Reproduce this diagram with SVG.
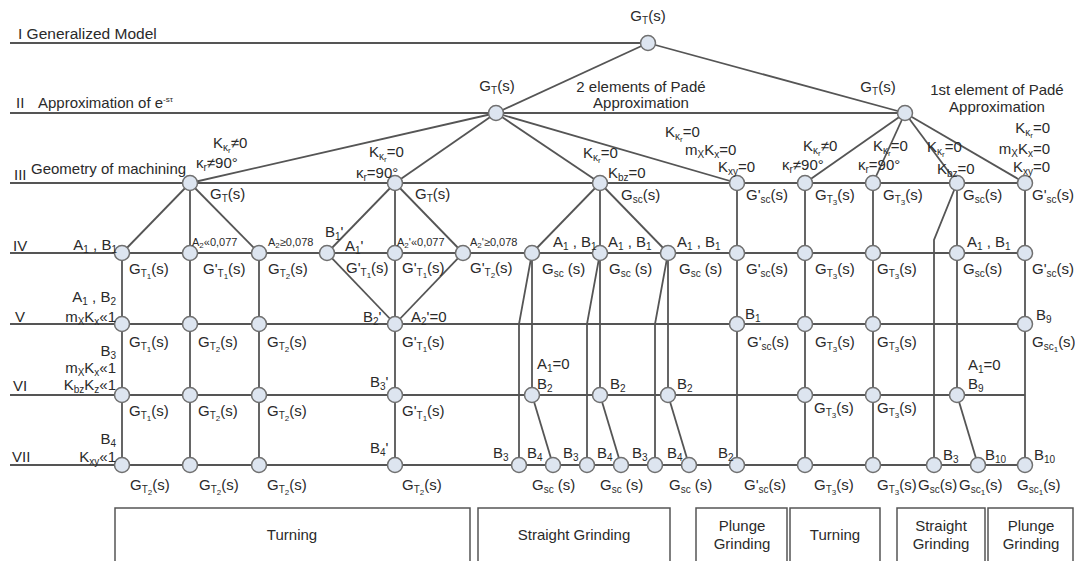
<svg xmlns="http://www.w3.org/2000/svg" width="1075" height="561" viewBox="0 0 1075 561">
<style>
.ln{stroke:#555;stroke-width:1.8;fill:none}
.nd{fill:#dde5f0;stroke:#707070;stroke-width:1.5}
.t{font-family:"Liberation Sans",Arial,sans-serif;font-size:15px;fill:#2a2a2a}
.sm{font-size:11px}
.sb{font-size:10px}
.ss{font-size:8px}
.sm .sb{font-size:8px}
.bx{fill:#fff;stroke:#555;stroke-width:1.5}
.c{text-anchor:middle}
.e{text-anchor:end}
</style>
<rect width="1075" height="561" fill="#fff"/>
<g id="connectors" class="ln">
<line x1="10" y1="43" x2="648" y2="43"/>
<line x1="10" y1="113" x2="905" y2="113"/>
<line x1="10" y1="183" x2="1025" y2="183"/>
<line x1="10" y1="253" x2="1025" y2="253"/>
<line x1="10" y1="324" x2="1025" y2="324"/>
<line x1="10" y1="395" x2="1025" y2="395"/>
<line x1="10" y1="465" x2="1025" y2="465"/>
<line x1="648" y1="43" x2="496" y2="113"/>
<line x1="648" y1="43" x2="905" y2="113"/>
<line x1="496" y1="113" x2="190" y2="183"/>
<line x1="496" y1="113" x2="395" y2="183"/>
<line x1="496" y1="113" x2="600" y2="183"/>
<line x1="496" y1="113" x2="737" y2="183"/>
<line x1="905" y1="113" x2="805" y2="183"/>
<line x1="905" y1="113" x2="873" y2="183"/>
<line x1="905" y1="113" x2="957" y2="183"/>
<line x1="905" y1="113" x2="1025" y2="183"/>
<line x1="190" y1="183" x2="122" y2="253"/>
<line x1="190" y1="183" x2="259" y2="253"/>
<line x1="395" y1="183" x2="327" y2="253"/>
<line x1="395" y1="183" x2="463" y2="253"/>
<line x1="327" y1="253" x2="395" y2="324"/>
<line x1="463" y1="253" x2="395" y2="324"/>
<line x1="600" y1="183" x2="532" y2="253"/>
<line x1="600" y1="183" x2="668" y2="253"/>
<line x1="122" y1="253" x2="122" y2="465"/>
<line x1="190" y1="183" x2="190" y2="465"/>
<line x1="259" y1="253" x2="259" y2="465"/>
<line x1="395" y1="183" x2="395" y2="465"/>
<line x1="532" y1="253" x2="532" y2="395"/>
<line x1="600" y1="183" x2="600" y2="395"/>
<line x1="668" y1="253" x2="668" y2="395"/>
<line x1="737" y1="183" x2="737" y2="465"/>
<line x1="805" y1="183" x2="805" y2="465"/>
<line x1="873" y1="183" x2="873" y2="465"/>
<line x1="957" y1="183" x2="957" y2="395"/>
<line x1="1025" y1="183" x2="1025" y2="465"/>
<polyline points="532,253 519,324 519,465"/>
<polyline points="600,253 587,324 587,465"/>
<polyline points="668,253 655,324 655,465"/>
<polyline points="957,183 934,240 934,465"/>
<line x1="532" y1="395" x2="553" y2="465"/>
<line x1="600" y1="395" x2="621" y2="465"/>
<line x1="668" y1="395" x2="689" y2="465"/>
<line x1="957" y1="395" x2="978" y2="465"/>
</g>
<g id="nodes" class="nd">
<g id="n1"><circle cx="648" cy="43" r="7.5"/></g>
<g id="n2a"><circle cx="496" cy="113" r="7.5"/></g>
<g id="n2b"><circle cx="905" cy="113" r="7.5"/></g>
<g id="n3-190"><circle cx="190" cy="183" r="7.5"/></g>
<g id="n3-395"><circle cx="395" cy="183" r="7.5"/></g>
<g id="n3-600"><circle cx="600" cy="183" r="7.5"/></g>
<g id="n3-737"><circle cx="737" cy="183" r="7.5"/></g>
<g id="n3-805"><circle cx="805" cy="183" r="7.5"/></g>
<g id="n3-873"><circle cx="873" cy="183" r="7.5"/></g>
<g id="n3-957"><circle cx="957" cy="183" r="7.5"/></g>
<g id="n3-1025"><circle cx="1025" cy="183" r="7.5"/></g>
<g id="n4-122"><circle cx="122" cy="253" r="7.5"/></g>
<g id="n4-190"><circle cx="190" cy="253" r="7.5"/></g>
<g id="n4-259"><circle cx="259" cy="253" r="7.5"/></g>
<g id="n4-327"><circle cx="327" cy="253" r="7.5"/></g>
<g id="n4-395"><circle cx="395" cy="253" r="7.5"/></g>
<g id="n4-463"><circle cx="463" cy="253" r="7.5"/></g>
<g id="n4-532"><circle cx="532" cy="253" r="7.5"/></g>
<g id="n4-600"><circle cx="600" cy="253" r="7.5"/></g>
<g id="n4-668"><circle cx="668" cy="253" r="7.5"/></g>
<g id="n4-737"><circle cx="737" cy="253" r="7.5"/></g>
<g id="n4-805"><circle cx="805" cy="253" r="7.5"/></g>
<g id="n4-873"><circle cx="873" cy="253" r="7.5"/></g>
<g id="n4-957"><circle cx="957" cy="253" r="7.5"/></g>
<g id="n4-1025"><circle cx="1025" cy="253" r="7.5"/></g>
<g id="n5-122"><circle cx="122" cy="324" r="7.5"/></g>
<g id="n5-190"><circle cx="190" cy="324" r="7.5"/></g>
<g id="n5-259"><circle cx="259" cy="324" r="7.5"/></g>
<g id="n5-395"><circle cx="395" cy="324" r="7.5"/></g>
<g id="n5-737"><circle cx="737" cy="324" r="7.5"/></g>
<g id="n5-805"><circle cx="805" cy="324" r="7.5"/></g>
<g id="n5-873"><circle cx="873" cy="324" r="7.5"/></g>
<g id="n5-1025"><circle cx="1025" cy="324" r="7.5"/></g>
<g id="n6-122"><circle cx="122" cy="395" r="7.5"/></g>
<g id="n6-190"><circle cx="190" cy="395" r="7.5"/></g>
<g id="n6-259"><circle cx="259" cy="395" r="7.5"/></g>
<g id="n6-395"><circle cx="395" cy="395" r="7.5"/></g>
<g id="n6-532"><circle cx="532" cy="395" r="7.5"/></g>
<g id="n6-600"><circle cx="600" cy="395" r="7.5"/></g>
<g id="n6-668"><circle cx="668" cy="395" r="7.5"/></g>
<g id="n6-805"><circle cx="805" cy="395" r="7.5"/></g>
<g id="n6-873"><circle cx="873" cy="395" r="7.5"/></g>
<g id="n6-957"><circle cx="957" cy="395" r="7.5"/></g>
<g id="n7-122"><circle cx="122" cy="465" r="7.5"/></g>
<g id="n7-190"><circle cx="190" cy="465" r="7.5"/></g>
<g id="n7-259"><circle cx="259" cy="465" r="7.5"/></g>
<g id="n7-395"><circle cx="395" cy="465" r="7.5"/></g>
<g id="n7-519"><circle cx="519" cy="465" r="7.5"/></g>
<g id="n7-553"><circle cx="553" cy="465" r="7.5"/></g>
<g id="n7-587"><circle cx="587" cy="465" r="7.5"/></g>
<g id="n7-621"><circle cx="621" cy="465" r="7.5"/></g>
<g id="n7-655"><circle cx="655" cy="465" r="7.5"/></g>
<g id="n7-689"><circle cx="689" cy="465" r="7.5"/></g>
<g id="n7-737"><circle cx="737" cy="465" r="7.5"/></g>
<g id="n7-805"><circle cx="805" cy="465" r="7.5"/></g>
<g id="n7-873"><circle cx="873" cy="465" r="7.5"/></g>
<g id="n7-934"><circle cx="934" cy="465" r="7.5"/></g>
<g id="n7-978"><circle cx="978" cy="465" r="7.5"/></g>
<g id="n7-1025"><circle cx="1025" cy="465" r="7.5"/></g>
</g>
<g id="level-labels" class="t">
<text x="18" y="39" font-size="15.5">I Generalized Model</text>
<text x="16" y="108">II</text>
<text x="38" y="108">Approximation of e<tspan font-size="8" dy="-6">-sτ</tspan></text>
<text x="14" y="180">III</text>
<text x="31" y="174">Geometry of machining</text>
<text x="13" y="251">IV</text>
<text x="15" y="322">V</text>
<text x="13" y="391">VI</text>
<text x="12" y="462">VII</text>
</g>
<g id="labels" class="t">
<text x="648" y="21" class="c">G<tspan class="sb" dy="3">T</tspan><tspan dy="-3">(s)</tspan></text>
<text x="497" y="91" class="c">G<tspan class="sb" dy="3">T</tspan><tspan dy="-3">(s)</tspan></text>
<text x="878" y="92" class="c">G<tspan class="sb" dy="3">T</tspan><tspan dy="-3">(s)</tspan></text>
<text x="641" y="92" class="c">2 elements of Padé</text>
<text x="641" y="108" class="c">Approximation</text>
<text x="997" y="95" class="c">1st element of Padé</text>
<text x="997" y="112" class="c">Approximation</text>
<text x="213" y="148">K<tspan class="sb" dy="3">κ</tspan><tspan class="ss" dy="2">r</tspan><tspan dy="-5">≠0</tspan></text>
<text x="196" y="168">κ<tspan class="sb" dy="3">r</tspan><tspan dy="-3">≠90°</tspan></text>
<text x="369" y="157">K<tspan class="sb" dy="3">κ</tspan><tspan class="ss" dy="2">r</tspan><tspan dy="-5">=0</tspan></text>
<text x="356" y="178">κ<tspan class="sb" dy="3">r</tspan><tspan dy="-3">=90°</tspan></text>
<text x="583" y="158">K<tspan class="sb" dy="3">κ</tspan><tspan class="ss" dy="2">r</tspan><tspan dy="-5">=0</tspan></text>
<text x="608" y="178">K<tspan class="sb" dy="3">bz</tspan><tspan dy="-3">=0</tspan></text>
<text x="665" y="137">K<tspan class="sb" dy="3">κ</tspan><tspan class="ss" dy="2">r</tspan><tspan dy="-5">=0</tspan></text>
<text x="685" y="155">m<tspan class="sb" dy="3">X</tspan><tspan dy="-3">K</tspan><tspan class="sb" dy="3">x</tspan><tspan dy="-3">=0</tspan></text>
<text x="718" y="172">K<tspan class="sb" dy="3">xy</tspan><tspan dy="-3">=0</tspan></text>
<text x="803" y="151">K<tspan class="sb" dy="3">κ</tspan><tspan class="ss" dy="2">r</tspan><tspan dy="-5">≠0</tspan></text>
<text x="782" y="170">κ<tspan class="sb" dy="3">r</tspan><tspan dy="-3">≠90°</tspan></text>
<text x="873" y="151">K<tspan class="sb" dy="3">κ</tspan><tspan class="ss" dy="2">r</tspan><tspan dy="-5">=0</tspan></text>
<text x="858" y="170">κ<tspan class="sb" dy="3">r</tspan><tspan dy="-3">=90°</tspan></text>
<text x="927" y="152">K<tspan class="sb" dy="3">κ</tspan><tspan class="ss" dy="2">r</tspan><tspan dy="-5">=0</tspan></text>
<text x="937" y="174">K<tspan class="sb" dy="3">bz</tspan><tspan dy="-3">=0</tspan></text>
<text x="1050" y="133" class="e">K<tspan class="sb" dy="3">κ</tspan><tspan class="ss" dy="2">r</tspan><tspan dy="-5">=0</tspan></text>
<text x="1050" y="154" class="e">m<tspan class="sb" dy="3">X</tspan><tspan dy="-3">K</tspan><tspan class="sb" dy="3">x</tspan><tspan dy="-3">=0</tspan></text>
<text x="1050" y="172" class="e">K<tspan class="sb" dy="3">xy</tspan><tspan dy="-3">=0</tspan></text>
<text x="210" y="199">G<tspan class="sb" dy="3">T</tspan><tspan dy="-3">(s)</tspan></text>
<text x="415" y="199">G<tspan class="sb" dy="3">T</tspan><tspan dy="-3">(s)</tspan></text>
<text x="621" y="200">G<tspan class="sb" dy="3">sc</tspan><tspan dy="-3">(s)</tspan></text>
<text x="746" y="200">G'<tspan class="sb" dy="3">sc</tspan><tspan dy="-3">(s)</tspan></text>
<text x="815" y="200">G<tspan class="sb" dy="3">T</tspan><tspan class="ss" dy="2">3</tspan><tspan dy="-5">(s)</tspan></text>
<text x="883" y="200">G<tspan class="sb" dy="3">T</tspan><tspan class="ss" dy="2">3</tspan><tspan dy="-5">(s)</tspan></text>
<text x="963" y="200">G<tspan class="sb" dy="3">sc</tspan><tspan dy="-3">(s)</tspan></text>
<text x="1032" y="200">G'<tspan class="sb" dy="3">sc</tspan><tspan dy="-3">(s)</tspan></text>
<text x="117" y="250" class="e">A<tspan class="sb" dy="3">1</tspan><tspan dy="-3"> , B</tspan><tspan class="sb" dy="3">1</tspan></text>
<text x="192" y="246" class="sm">A<tspan class="sb" dy="2">2</tspan><tspan dy="-2">«0,077</tspan></text>
<text x="268" y="246" class="sm">A<tspan class="sb" dy="2">2</tspan><tspan dy="-2">≥0,078</tspan></text>
<text x="325" y="237">B<tspan class="sb" dy="3">1</tspan><tspan dy="-3">'</tspan></text>
<text x="345" y="251">A<tspan class="sb" dy="3">1</tspan><tspan dy="-3">'</tspan></text>
<text x="397" y="246" class="sm">A<tspan class="sb" dy="2">2</tspan><tspan dy="-2">'«0,077</tspan></text>
<text x="470" y="246" class="sm">A<tspan class="sb" dy="2">2</tspan><tspan dy="-2">'≥0,078</tspan></text>
<text x="553" y="247">A<tspan class="sb" dy="3">1</tspan><tspan dy="-3"> , B</tspan><tspan class="sb" dy="3">1</tspan></text>
<text x="608" y="247">A<tspan class="sb" dy="3">1</tspan><tspan dy="-3"> , B</tspan><tspan class="sb" dy="3">1</tspan></text>
<text x="677" y="247">A<tspan class="sb" dy="3">1</tspan><tspan dy="-3"> , B</tspan><tspan class="sb" dy="3">1</tspan></text>
<text x="967" y="247">A<tspan class="sb" dy="3">1</tspan><tspan dy="-3"> , B</tspan><tspan class="sb" dy="3">1</tspan></text>
<text x="129" y="274">G<tspan class="sb" dy="3">T</tspan><tspan class="ss" dy="2">1</tspan><tspan dy="-5">(s)</tspan></text>
<text x="203" y="274">G'<tspan class="sb" dy="3">T</tspan><tspan class="ss" dy="2">1</tspan><tspan dy="-5">(s)</tspan></text>
<text x="268" y="274">G<tspan class="sb" dy="3">T</tspan><tspan class="ss" dy="2">2</tspan><tspan dy="-5">(s)</tspan></text>
<text x="346" y="273">G'<tspan class="sb" dy="3">T</tspan><tspan class="ss" dy="2">1</tspan><tspan dy="-5">(s)</tspan></text>
<text x="402" y="273">G'<tspan class="sb" dy="3">T</tspan><tspan class="ss" dy="2">1</tspan><tspan dy="-5">(s)</tspan></text>
<text x="470" y="273">G'<tspan class="sb" dy="3">T</tspan><tspan class="ss" dy="2">2</tspan><tspan dy="-5">(s)</tspan></text>
<text x="542" y="274">G<tspan class="sb" dy="3">sc</tspan><tspan dy="-3"> (s)</tspan></text>
<text x="609" y="274">G<tspan class="sb" dy="3">sc</tspan><tspan dy="-3"> (s)</tspan></text>
<text x="679" y="274">G<tspan class="sb" dy="3">sc</tspan><tspan dy="-3"> (s)</tspan></text>
<text x="746" y="274">G'<tspan class="sb" dy="3">sc</tspan><tspan dy="-3">(s)</tspan></text>
<text x="815" y="274">G<tspan class="sb" dy="3">T</tspan><tspan class="ss" dy="2">3</tspan><tspan dy="-5">(s)</tspan></text>
<text x="877" y="274">G<tspan class="sb" dy="3">T</tspan><tspan class="ss" dy="2">3</tspan><tspan dy="-5">(s)</tspan></text>
<text x="963" y="274">G<tspan class="sb" dy="3">sc</tspan><tspan dy="-3">(s)</tspan></text>
<text x="1032" y="274">G'<tspan class="sb" dy="3">sc</tspan><tspan dy="-3">(s)</tspan></text>
<text x="116" y="302" class="e">A<tspan class="sb" dy="3">1</tspan><tspan dy="-3"> , B</tspan><tspan class="sb" dy="3">2</tspan></text>
<text x="116" y="322" class="e">m<tspan class="sb" dy="3">X</tspan><tspan dy="-3">K</tspan><tspan class="sb" dy="3">x</tspan><tspan dy="-3">«1</tspan></text>
<text x="363" y="322">B<tspan class="sb" dy="3">2</tspan><tspan dy="-3">'</tspan></text>
<text x="411" y="322">A<tspan class="sb" dy="3">2</tspan><tspan dy="-3">'=0</tspan></text>
<text x="745" y="319">B<tspan class="sb" dy="3">1</tspan></text>
<text x="1036" y="320">B<tspan class="sb" dy="3">9</tspan></text>
<text x="129" y="347">G<tspan class="sb" dy="3">T</tspan><tspan class="ss" dy="2">1</tspan><tspan dy="-5">(s)</tspan></text>
<text x="198" y="347">G<tspan class="sb" dy="3">T</tspan><tspan class="ss" dy="2">2</tspan><tspan dy="-5">(s)</tspan></text>
<text x="267" y="347">G<tspan class="sb" dy="3">T</tspan><tspan class="ss" dy="2">2</tspan><tspan dy="-5">(s)</tspan></text>
<text x="402" y="347">G'<tspan class="sb" dy="3">T</tspan><tspan class="ss" dy="2">1</tspan><tspan dy="-5">(s)</tspan></text>
<text x="747" y="347">G'<tspan class="sb" dy="3">sc</tspan><tspan dy="-3">(s)</tspan></text>
<text x="815" y="347">G<tspan class="sb" dy="3">T</tspan><tspan class="ss" dy="2">3</tspan><tspan dy="-5">(s)</tspan></text>
<text x="877" y="347">G<tspan class="sb" dy="3">T</tspan><tspan class="ss" dy="2">3</tspan><tspan dy="-5">(s)</tspan></text>
<text x="1032" y="347">G<tspan class="sb" dy="3">sc</tspan><tspan class="ss" dy="2">1</tspan><tspan dy="-5">(s)</tspan></text>
<text x="116" y="356" class="e">B<tspan class="sb" dy="3">3</tspan></text>
<text x="116" y="373" class="e">m<tspan class="sb" dy="3">X</tspan><tspan dy="-3">K</tspan><tspan class="sb" dy="3">x</tspan><tspan dy="-3">«1</tspan></text>
<text x="116" y="390" class="e">K<tspan class="sb" dy="3">bz</tspan><tspan dy="-3">K</tspan><tspan class="sb" dy="3">z</tspan><tspan dy="-3">«1</tspan></text>
<text x="370" y="387">B<tspan class="sb" dy="3">3</tspan><tspan dy="-3">'</tspan></text>
<text x="537" y="369">A<tspan class="sb" dy="3">1</tspan><tspan dy="-3">=0</tspan></text>
<text x="537" y="389">B<tspan class="sb" dy="3">2</tspan></text>
<text x="610" y="389">B<tspan class="sb" dy="3">2</tspan></text>
<text x="677" y="389">B<tspan class="sb" dy="3">2</tspan></text>
<text x="968" y="370">A<tspan class="sb" dy="3">1</tspan><tspan dy="-3">=0</tspan></text>
<text x="968" y="389">B<tspan class="sb" dy="3">9</tspan></text>
<text x="129" y="416">G<tspan class="sb" dy="3">T</tspan><tspan class="ss" dy="2">1</tspan><tspan dy="-5">(s)</tspan></text>
<text x="198" y="416">G<tspan class="sb" dy="3">T</tspan><tspan class="ss" dy="2">2</tspan><tspan dy="-5">(s)</tspan></text>
<text x="267" y="416">G<tspan class="sb" dy="3">T</tspan><tspan class="ss" dy="2">2</tspan><tspan dy="-5">(s)</tspan></text>
<text x="402" y="416">G'<tspan class="sb" dy="3">T</tspan><tspan class="ss" dy="2">1</tspan><tspan dy="-5">(s)</tspan></text>
<text x="814" y="413">G<tspan class="sb" dy="3">T</tspan><tspan class="ss" dy="2">3</tspan><tspan dy="-5">(s)</tspan></text>
<text x="877" y="413">G<tspan class="sb" dy="3">T</tspan><tspan class="ss" dy="2">3</tspan><tspan dy="-5">(s)</tspan></text>
<text x="116" y="444" class="e">B<tspan class="sb" dy="3">4</tspan></text>
<text x="116" y="462" class="e">K<tspan class="sb" dy="3">xy</tspan><tspan dy="-3">«1</tspan></text>
<text x="370" y="453">B<tspan class="sb" dy="3">4</tspan><tspan dy="-3">'</tspan></text>
<text x="493" y="458">B<tspan class="sb" dy="3">3</tspan></text>
<text x="527" y="458">B<tspan class="sb" dy="3">4</tspan></text>
<text x="563" y="458">B<tspan class="sb" dy="3">3</tspan></text>
<text x="597" y="458">B<tspan class="sb" dy="3">4</tspan></text>
<text x="632" y="458">B<tspan class="sb" dy="3">3</tspan></text>
<text x="667" y="458">B<tspan class="sb" dy="3">4</tspan></text>
<text x="718" y="458">B<tspan class="sb" dy="3">2</tspan></text>
<text x="943" y="460">B<tspan class="sb" dy="3">3</tspan></text>
<text x="985" y="460">B<tspan class="sb" dy="3">10</tspan></text>
<text x="1034" y="460">B<tspan class="sb" dy="3">10</tspan></text>
<text x="130" y="490">G<tspan class="sb" dy="3">T</tspan><tspan class="ss" dy="2">2</tspan><tspan dy="-5">(s)</tspan></text>
<text x="199" y="490">G<tspan class="sb" dy="3">T</tspan><tspan class="ss" dy="2">2</tspan><tspan dy="-5">(s)</tspan></text>
<text x="267" y="490">G<tspan class="sb" dy="3">T</tspan><tspan class="ss" dy="2">2</tspan><tspan dy="-5">(s)</tspan></text>
<text x="402" y="490">G<tspan class="sb" dy="3">T</tspan><tspan class="ss" dy="2">2</tspan><tspan dy="-5">(s)</tspan></text>
<text x="532" y="490">G<tspan class="sb" dy="3">sc</tspan><tspan dy="-3"> (s)</tspan></text>
<text x="600" y="490">G<tspan class="sb" dy="3">sc</tspan><tspan dy="-3"> (s)</tspan></text>
<text x="669" y="490">G<tspan class="sb" dy="3">sc</tspan><tspan dy="-3"> (s)</tspan></text>
<text x="744" y="490">G'<tspan class="sb" dy="3">sc</tspan><tspan dy="-3">(s)</tspan></text>
<text x="814" y="490">G<tspan class="sb" dy="3">T</tspan><tspan class="ss" dy="2">3</tspan><tspan dy="-5">(s)</tspan></text>
<text x="877" y="490">G<tspan class="sb" dy="3">T</tspan><tspan class="ss" dy="2">3</tspan><tspan dy="-5">(s)</tspan></text>
<text x="918" y="490">G<tspan class="sb" dy="3">sc</tspan><tspan dy="-3">(s)</tspan></text>
<text x="959" y="490">G<tspan class="sb" dy="3">sc</tspan><tspan class="ss" dy="2">1</tspan><tspan dy="-5">(s)</tspan></text>
<text x="1017" y="490">G<tspan class="sb" dy="3">sc</tspan><tspan class="ss" dy="2">1</tspan><tspan dy="-5">(s)</tspan></text>
</g>
<g id="categories">
<g id="box-turning-1"><rect class="bx" x="115" y="508" width="355" height="70"/><text class="t c" x="292" y="540">Turning</text></g>
<g id="box-straight-1"><rect class="bx" x="478" y="508" width="192" height="70"/><text class="t c" x="574" y="540">Straight Grinding</text></g>
<g id="box-plunge-1"><rect class="bx" x="696" y="508" width="91" height="70"/><text class="t c" x="742" y="531">Plunge</text><text class="t c" x="742" y="549">Grinding</text></g>
<g id="box-turning-2"><rect class="bx" x="790" y="508" width="90" height="70"/><text class="t c" x="835" y="540">Turning</text></g>
<g id="box-straight-2"><rect class="bx" x="897" y="508" width="88" height="70"/><text class="t c" x="941" y="531">Straight</text><text class="t c" x="941" y="549">Grinding</text></g>
<g id="box-plunge-2"><rect class="bx" x="988" y="508" width="85" height="70"/><text class="t c" x="1031" y="531">Plunge</text><text class="t c" x="1031" y="549">Grinding</text></g>
</g>
</svg>
